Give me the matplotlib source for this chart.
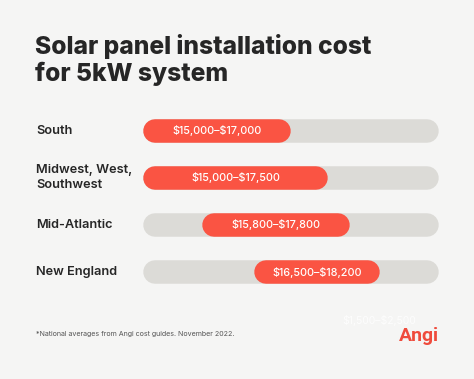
import matplotlib
matplotlib.use("Agg")
import matplotlib.pyplot as plt
import matplotlib.transforms as mtransforms

# ---- data ----
regions = ["South", "Midwest, West,\nSouthwest", "Mid-Atlantic", "New England"]
low_values = [15000, 15000, 15800, 16500]
high_values = [17000, 17500, 17800, 18200]
range_labels = ["$15,000–$17,000", "$15,000–$17,500", "$15,800–$17,800", "$16,500–$18,200"]
axis_min, axis_max = 15000, 19000

BG = "#f5f5f4"
TRACK = "#dcdbd7"
RED = "#fa5443"
DARK = "#262626"

W, H, DPI = 474, 379, 100
fig = plt.figure(figsize=(W / DPI, H / DPI), dpi=DPI, facecolor=BG)

# axes placement (pixel based)
left_px, right_px = 143, 439
row0_px, row_step = 130.5, 47.2
top_px = row0_px - row_step / 2
bot_px = row0_px + row_step * 3.5
ax = fig.add_axes([left_px / W, 1 - bot_px / H, (right_px - left_px) / W, (bot_px - top_px) / H])
ax.set_facecolor(BG)
ax.set_xlim(axis_min, axis_max)
ax.set_ylim(len(regions) - 0.5, -0.5)
ax.axis("off")

bar_px = 23.5
lw_pt = bar_px * 72 / DPI
r = (bar_px / 2) * (axis_max - axis_min) / (right_px - left_px)

for i, (lo, hi, lab) in enumerate(zip(low_values, high_values, range_labels)):
    ax.plot([axis_min + r, axis_max - r], [i, i], color=TRACK, lw=lw_pt,
            solid_capstyle="round", zorder=1)
    ax.plot([lo + r, hi - r], [i, i], color=RED, lw=lw_pt,
            solid_capstyle="round", zorder=2)
    ax.text((lo + hi) / 2, i, lab, color="white", fontsize=7.8, fontweight="medium",
            family="Inter", ha="center", va="center", zorder=3, parse_math=False)

lab_tr = mtransforms.blended_transform_factory(fig.transFigure, ax.transData)
for i, name in enumerate(regions):
    ax.text(36 / W, i, name, transform=lab_tr, fontsize=9.2, fontweight="semibold",
            family="Inter", color=DARK, ha="left", va="center", linespacing=1.3)

fig.text(35 / W, 1 - 34 / H, "Solar panel installation cost\nfor 5kW system",
         fontsize=17.7, fontweight="heavy", family="Inter", color=DARK,
         ha="left", va="top", linespacing=1.14)

fig.text(36 / W, 1 - 334 / H, "*National averages from Angi cost guides. November 2022.",
         fontsize=5.1, family="Inter", color="#555555", ha="left", va="center")

fig.text(379 / W, 1 - 321 / H, "$1,500–$2,500", fontsize=7.5, family="Inter",
         color="#fdfdfd", ha="center", va="center", parse_math=False)
fig.text(439 / W, 1 - 341 / H, "Angi", fontsize=14, fontweight="bold", family="Roboto",
         color="#ef4b3c", ha="right", va="baseline")

fig.savefig("out.png", dpi=DPI, facecolor=BG)
